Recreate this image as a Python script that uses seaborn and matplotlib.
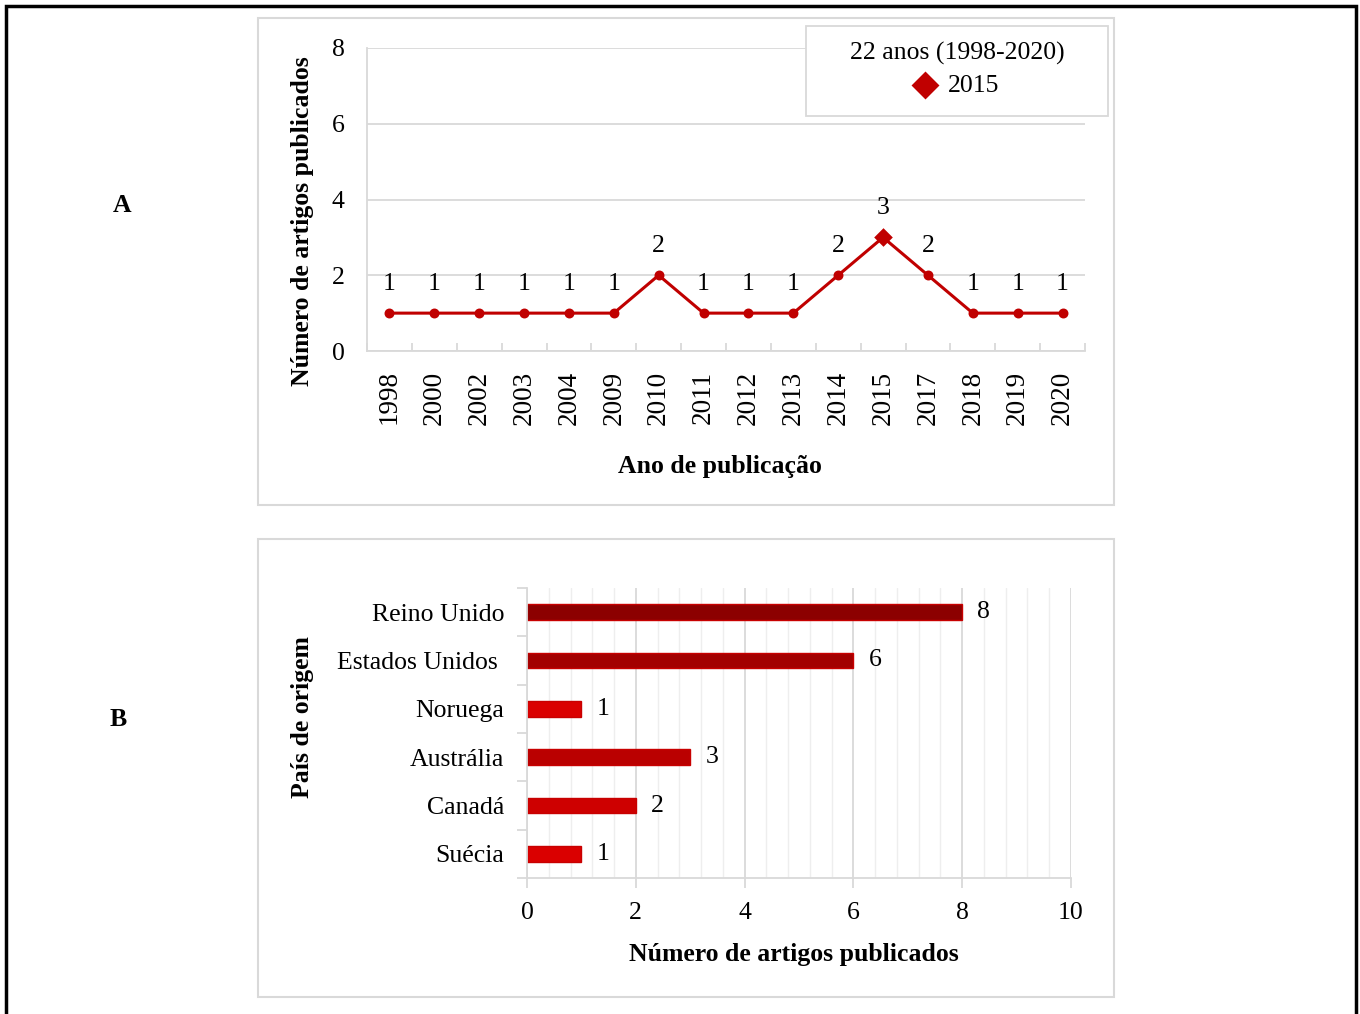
import numpy as np
import pandas as pd
import seaborn as sns
import matplotlib
matplotlib.use("Agg")
import matplotlib.pyplot as plt
from matplotlib.patches import Rectangle
from matplotlib.ticker import MultipleLocator, FixedLocator

# ---------------- data ----------------
years = ["1998", "2000", "2002", "2003", "2004", "2009", "2010", "2011",
         "2012", "2013", "2014", "2015", "2017", "2018", "2019", "2020"]
articles_per_year = [1, 1, 1, 1, 1, 1, 2, 1, 1, 1, 2, 3, 2, 1, 1, 1]
highlight_year = "2015"
legend_title = "22 anos (1998-2020)"

countries = ["Reino Unido", "Estados Unidos ", "Noruega", "Austrália", "Canadá", "Suécia"]
articles_per_country = [8, 6, 1, 3, 2, 1]
country_colors = ["#8C0000", "#A30000", "#DA0000", "#BA0000", "#CE0000", "#DA0000"]

# ---------------- style ----------------
sns.set_theme(style="white")
plt.rcParams["font.family"] = ["Liberation Serif", "DejaVu Serif"]
plt.rcParams["text.color"] = "black"
plt.rcParams["axes.labelcolor"] = "black"
plt.rcParams["xtick.color"] = "black"
plt.rcParams["ytick.color"] = "black"
FS = 18.5
GRID = "#D9D9D9"
RED = "#C00000"

W, H = 1360, 1014
fig = plt.figure(figsize=(W / 100, H / 100), dpi=100)


def fx(px):
    return px / W


def fy(py):
    return 1 - py / H


def add_rect(x0, y0, x1, y1, **kw):
    r = Rectangle((fx(x0), fy(y1)), fx(x1) - fx(x0), fy(y0) - fy(y1),
                  transform=fig.transFigure, **kw)
    fig.patches.append(r)
    return r


# outer frame and panel frames
add_rect(6, 6, 1356, 1040, fill=False, edgecolor="black", linewidth=2.5, zorder=0)
add_rect(258, 18, 1114, 505, fill=False, edgecolor=GRID, linewidth=1.5, zorder=0)
add_rect(258, 539, 1114, 997, fill=False, edgecolor=GRID, linewidth=1.5, zorder=0)

# ---------------- panel A ----------------
axA = fig.add_axes([fx(367), fy(351), fx(1085) - fx(367), fy(48) - fy(351)])
dfA = pd.DataFrame({"ano": years, "n": articles_per_year})
sns.pointplot(data=dfA, x="ano", y="n", order=years, color=RED,
              markers="o", markersize=5.5, linewidth=2.2, errorbar=None, ax=axA)
idx = years.index(highlight_year)
axA.scatter([idx], [articles_per_year[idx]], marker="D", s=90, color=RED,
            zorder=5, label=highlight_year, linewidths=0)
for i, v in enumerate(articles_per_year):
    axA.annotate(str(v), (i, v), xytext=(0, 21), textcoords="offset points",
                 ha="center", va="center", fontsize=FS, color="black")

axA.set_xlim(-0.5, len(years) - 0.5)
axA.set_ylim(0, 8)
axA.yaxis.set_major_locator(FixedLocator([0, 2, 4, 6, 8]))
axA.grid(axis="y", color=GRID, linewidth=1.3)
axA.grid(axis="x", visible=False)
for s in ["top", "right"]:
    axA.spines[s].set_visible(False)
for s in ["left", "bottom"]:
    axA.spines[s].set_color(GRID)
    axA.spines[s].set_linewidth(1.3)
axA.set_xticks(range(len(years)))
axA.set_xticklabels(years, rotation=90, fontsize=19.5)
axA.xaxis.set_minor_locator(FixedLocator(np.arange(-0.5, len(years), 1.0)))
axA.tick_params(axis="x", which="major", length=0, pad=14)
axA.tick_params(axis="x", which="minor", length=6, direction="in", color=GRID,
                width=1.3, bottom=True)
axA.tick_params(axis="y", length=0, pad=16, labelsize=FS)
axA.set_xlabel("Ano de publicação", fontsize=FS, fontweight="bold")
axA.set_ylabel("Número de artigos publicados", fontsize=FS, fontweight="bold")
axA.xaxis.set_label_coords((720 - 367) / 718, (351 - 467) / 303)
axA.xaxis.label.set_va("center")
axA.yaxis.set_label_coords((302 - 367) / 718, (351 - 221) / 303)
axA.yaxis.label.set_va("center")

# legend box
add_rect(806, 26, 1108, 116, facecolor="white", edgecolor=GRID, linewidth=1.3, zorder=1)
h, l = axA.get_legend_handles_labels()
leg = fig.legend(h, l, title=legend_title, loc="center",
                 bbox_to_anchor=(fx(957), fy(69)), frameon=False, fontsize=FS,
                 title_fontsize=FS, handlelength=0.8, handletextpad=0.5,
                 markerscale=1.5, labelspacing=0.35, borderpad=0.2)
leg.set_zorder(2)

# ---------------- panel B ----------------
axB = fig.add_axes([fx(527), fy(878), fx(1071) - fx(527), fy(588) - fy(878)])
dfB = pd.DataFrame({"pais": countries, "n": articles_per_country})
sns.barplot(data=dfB, y="pais", x="n", hue="pais", order=countries,
            hue_order=countries, palette=country_colors, orient="h",
            width=0.32, legend=False, edgecolor="#C80000", linewidth=1.0,
            saturation=1, ax=axB)
for cont in axB.containers:
    axB.bar_label(cont, padding=11, fontsize=FS, color="black")

axB.set_xlim(0, 10)
axB.set_ylim(len(countries) - 0.5, -0.5)
axB.xaxis.set_major_locator(MultipleLocator(2))
axB.xaxis.set_minor_locator(MultipleLocator(0.4))
axB.grid(axis="x", which="major", color=GRID, linewidth=1.3, zorder=0)
axB.grid(axis="x", which="minor", color="#EEEEEE", linewidth=1.0, zorder=0)
axB.grid(axis="y", visible=False)
axB.set_axisbelow(True)
for s in ["top", "right"]:
    axB.spines[s].set_visible(False)
for s in ["left", "bottom"]:
    axB.spines[s].set_color(GRID)
    axB.spines[s].set_linewidth(1.3)
axB.tick_params(axis="x", which="major", length=7, direction="out", color=GRID,
                width=1.3, bottom=True, pad=10, labelsize=FS, labelcolor="black")
axB.tick_params(axis="x", which="minor", length=0)
axB.yaxis.set_minor_locator(FixedLocator(np.arange(-0.5, len(countries), 1.0)))
axB.tick_params(axis="y", which="major", length=0, pad=16.5, labelsize=FS,
                labelcolor="black")
axB.tick_params(axis="y", which="minor", length=7, direction="out", color=GRID,
                width=1.3, left=True)
axB.set_xlabel("Número de artigos publicados", fontsize=FS, fontweight="bold")
axB.set_ylabel("País de origem", fontsize=FS, fontweight="bold")
axB.xaxis.set_label_coords((794 - 527) / 544, (878 - 955) / 290)
axB.xaxis.label.set_va("center")
axB.yaxis.set_label_coords((302 - 527) / 544, (878 - 717) / 290)
axB.yaxis.label.set_va("center")

# panel letters
fig.text(fx(122), fy(206), "A", fontsize=FS, fontweight="bold", ha="center", va="center")
fig.text(fx(118), fy(719), "B", fontsize=FS, fontweight="bold", ha="center", va="center")

fig.savefig("out.png", dpi=100, facecolor="white")
